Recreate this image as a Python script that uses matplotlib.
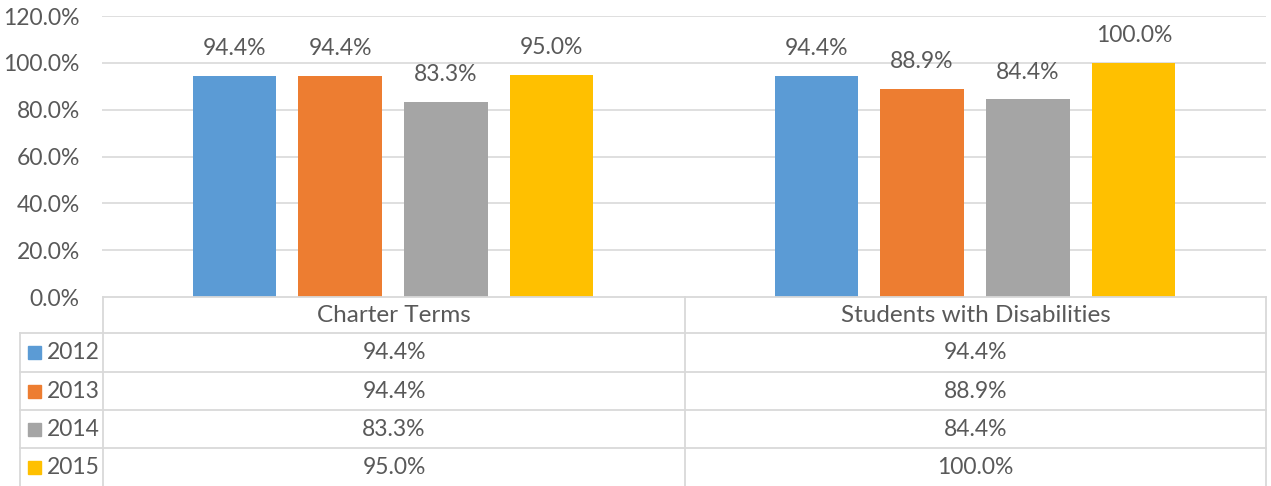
import matplotlib
matplotlib.use("Agg")
import matplotlib.pyplot as plt
import numpy as np

categories = ["Charter Terms", "Students with Disabilities"]
years = ["2012", "2013", "2014", "2015"]
values = {
    "2012": [94.4, 94.4],
    "2013": [94.4, 88.9],
    "2014": [83.3, 84.4],
    "2015": [95.0, 100.0],
}
colors = ["#5B9BD5", "#ED7D31", "#A5A5A5", "#FFC000"]
yticks = [0, 20, 40, 60, 80, 100, 120]

TXT = "#595959"
GRID = "#D9D9D9"
FS = 16.5
FSH = 17.5
plt.rcParams['font.family'] = ['Lato', 'DejaVu Sans']

W, H = 1271, 486
fig = plt.figure(figsize=(W / 100, H / 100), dpi=100)

# main plot area in pixels
L, R, T, B = 102, 1266, 16, 297
ax = fig.add_axes([L / W, 1 - B / H, (R - L) / W, (B - T) / H])
ax.set_xlim(-0.5, 1.5)
ax.set_ylim(0, 120)
for s in ax.spines.values():
    s.set_visible(False)
ax.set_yticks(yticks)
ax.set_yticklabels([f"{v:.1f}%" for v in yticks], color=TXT, fontsize=FS)
ax.tick_params(axis='y', length=0, pad=16)
ax.set_xticks([])
for v in yticks[1:]:
    ax.axhline(v, color=GRID, lw=1.2, zorder=0)

x = np.arange(len(categories))
step = 0.182
bw = 0.143
for i, (yr, c) in enumerate(zip(years, colors)):
    xs = x + (i - 1.5) * step
    ax.bar(xs, values[yr], width=bw, color=c, zorder=2)
    for xi, v in zip(xs, values[yr]):
        ax.annotate(f"{v:.1f}%", (xi, v), xytext=(0, 12),
                    textcoords='offset points', ha='center', va='bottom',
                    color=TXT, fontsize=FS)

# table overlay in pixel coordinates
tb = fig.add_axes([0, 0, 1, 1])
tb.set_xlim(0, W)
tb.set_ylim(H, 0)
tb.axis('off')
tb.patch.set_visible(False)

LC = 20       # legend column left
C1 = 103      # first data col left
C2 = 685      # second col left
C3 = 1266     # right
rows = [297, 333, 372, 410, 448, 486]
lw = 1.3
tb.plot([C1, C3], [rows[0], rows[0]], color=GRID, lw=lw)
for yy in rows[1:5]:
    tb.plot([LC, C3], [yy, yy], color=GRID, lw=lw)
tb.plot([LC, LC], [rows[1], H], color=GRID, lw=lw)
for xx in [C1, C2, C3]:
    tb.plot([xx, xx], [rows[0], H], color=GRID, lw=lw)

centers = [(C1 + C2) / 2, (C2 + C3) / 2]
for cx, cat in zip(centers, categories):
    tb.text(cx, (rows[0] + rows[1]) / 2, cat, ha='center', va='center',
            color=TXT, fontsize=FSH)
for r, (yr, c) in enumerate(zip(years, colors)):
    ymid = (rows[r + 1] + rows[r + 2]) / 2
    tb.add_patch(plt.Rectangle((28, ymid - 6.5), 13, 13, color=c))
    tb.text(47, ymid, yr, ha='left', va='center', color=TXT, fontsize=FS)
    for cx, v in zip(centers, values[yr]):
        tb.text(cx, ymid, f"{v:.1f}%", ha='center', va='center',
                color=TXT, fontsize=FS)

fig.savefig("out.png", dpi=100)
